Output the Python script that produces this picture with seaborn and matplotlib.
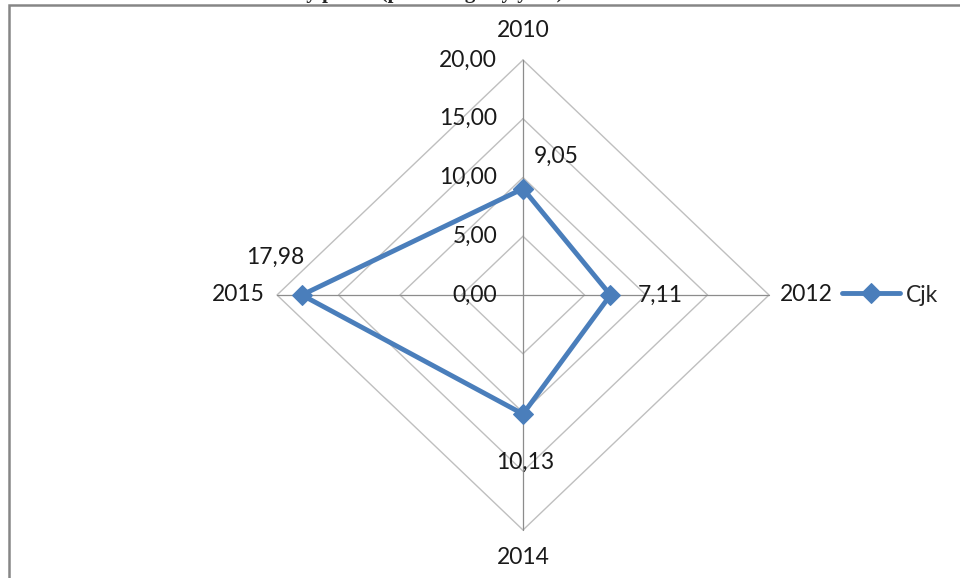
"""
Radar chart Cjk 2010-2015, redrawn with seaborn on a cartesian axes
"""
import numpy as np
import pandas as pd
import matplotlib
matplotlib.use('Agg')
import matplotlib.pyplot as plt
from matplotlib.patches import Rectangle
import seaborn as sns

# data
years = ['2010', '2012', '2014', '2015']
cjk = [9.05, 7.11, 10.13, 17.98]
ring_ticks = [0, 5, 10, 15, 20]
ring_labels = ['0,00', '5,00', '10,00', '15,00', '20,00']
series_name = 'Cjk'

BLUE = '#4A7EBB'
GRID = '#BFBFBF'
SPOKE = '#8C8C8C'
FS = 16.5

sns.set_style('white')
plt.rcParams['font.family'] = ['Lato', 'DejaVu Sans']

fig = plt.figure(figsize=(9.6, 5.78), dpi=100)
ax = fig.add_axes([0, 0, 1, 1])
# center at pixel (523, 295), 246 px per 20 horizontally, 235 px vertically
sx, sy = 246 / 20, 235 / 20
ax.set_xlim(-523 / sx, (960 - 523) / sx)
ax.set_ylim(-(578 - 295) / sy, 295 / sy)
ax.axis('off')

# angles: 2010 top, then clockwise
ang = np.pi / 2 - np.arange(len(years)) * 2 * np.pi / len(years)
ux, uy = np.round(np.cos(ang), 10), np.round(np.sin(ang), 10)

# diamond grid rings
for r in ring_ticks[1:]:
    ax.plot(np.append(ux, ux[0]) * r, np.append(uy, uy[0]) * r, color=GRID, lw=1, zorder=1)
# spokes
rmax = ring_ticks[-1]
for i in range(len(years)):
    ax.plot([0, ux[i] * rmax], [0, uy[i] * rmax], color=SPOKE, lw=0.9, zorder=1)

# ring value labels, on the vertical spoke
for r, lab in zip(ring_ticks, ring_labels):
    ax.text(-2.1, r, lab, ha='right', va='center', fontsize=FS, color='#1a1a1a')

# category labels outside the tips
ax.annotate(years[0], (0, rmax), xytext=(0, 29), textcoords='offset pixels',
            ha='center', va='center', fontsize=FS, color='#1a1a1a')
ax.annotate(years[1], (rmax, 0), xytext=(11, 0), textcoords='offset pixels',
            ha='left', va='center', fontsize=FS, color='#1a1a1a')
ax.annotate(years[2], (0, -rmax), xytext=(0, -28), textcoords='offset pixels',
            ha='center', va='center', fontsize=FS, color='#1a1a1a')
ax.annotate(years[3], (-rmax, 0), xytext=(-12, 0), textcoords='offset pixels',
            ha='right', va='center', fontsize=FS, color='#1a1a1a')

# series
vals = np.array(cjk)
df = pd.DataFrame({'x': np.append(ux * vals, ux[0] * vals[0]),
                   'y': np.append(uy * vals, uy[0] * vals[0])})
sns.lineplot(data=df, x='x', y='y', sort=False, estimator=None, ax=ax,
             color=BLUE, lw=3.5, marker='D', markersize=10, markeredgecolor=BLUE,
             label=series_name, zorder=3)

# data labels
offs = [(33, 32), (50, 0), (2, -48), (-27, 38)]
for i, v in enumerate(cjk):
    ax.annotate(f'{v:.2f}'.replace('.', ','), (ux[i] * v, uy[i] * v), xytext=offs[i],
                textcoords='offset pixels', ha='center', va='center',
                fontsize=FS, color='#1a1a1a')

ax.legend(loc='center left', bbox_to_anchor=(842 / 960, 1 - 295 / 578), frameon=False,
          fontsize=FS, handlelength=2.55, handletextpad=0.25, borderaxespad=0, borderpad=0)

# chart border (only left and top edges fall inside the picture)
fig.patches.append(Rectangle((9 / 960, -0.1), 1.2, 1.1 - 5 / 578, transform=fig.transFigure,
                             fill=False, edgecolor='#868686', lw=1.8, zorder=5))
# caption above the chart, cut off by the top edge as in the reference
fig.text(240 / 960, 1 + 2 / 578, 'Monthly prices (percentage by year)', ha='left',
         va='baseline', fontsize=15, fontweight='bold', family='Liberation Serif')

fig.savefig('out.png', dpi=100)
